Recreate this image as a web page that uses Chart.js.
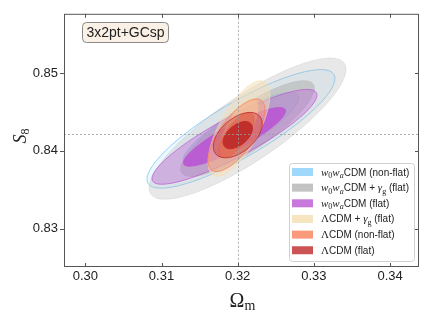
<!DOCTYPE html>
<html>
<head>
<meta charset="utf-8">
<script src="https://cdn.jsdelivr.net/npm/chart.js@4.4.1/dist/chart.umd.min.js"></script>
<style>
  html, body { margin: 0; padding: 0; background: #fff; }
  #wrap { width: 430px; height: 322px; }
</style>
</head>
<body>
<div id="wrap"><canvas id="chart" width="430" height="322"></canvas></div>
<script>
// --- data ---
const xTicks = [0.30, 0.31, 0.32, 0.33, 0.34];
const yTicks = [0.83, 0.84, 0.85];
const xRange = [0.2972, 0.3438];
const yRange = [0.8251, 0.8576];
const fiducialOm = 0.32;
const fiducialS8 = 0.8422;
const panelTitle = '3x2pt+GCsp';

// one entry per model, in legend order
const modelLabels = [
  [['w', 'it'], ['0', 'sub'], ['w', 'it'], ['a', 'subit'], ['CDM (non-flat)', 'sans']],
  [['w', 'it'], ['0', 'sub'], ['w', 'it'], ['a', 'subit'], ['CDM + ', 'sans'], ['γ', 'it'], ['g', 'sub'], [' (flat)', 'sans']],
  [['w', 'it'], ['0', 'sub'], ['w', 'it'], ['a', 'subit'], ['CDM (flat)', 'sans']],
  [['Λ', 'rm'], ['CDM + ', 'sans'], ['γ', 'it'], ['g', 'sub'], [' (flat)', 'sans']],
  [['Λ', 'rm'], ['CDM (non-flat)', 'sans']],
  [['Λ', 'rm'], ['CDM (flat)', 'sans']]
];
const centerOm = [0.32043, 0.32129, 0.31958, 0.32017, 0.31984, 0.32001];
const centerS8 = [0.84283, 0.84286, 0.84181, 0.84286, 0.84201, 0.84203];
// 2-sigma contour half extents and correlation
const outerHalfOm = [0.01234, 0.01293, 0.01083, 0.00407, 0.00374, 0.00322];
const outerHalfS8 = [0.00761, 0.00907, 0.00609, 0.00615, 0.00466, 0.00292];
const corrOmS8 = [0.85, 0.84, 0.88, 0.70, 0.70, 0.50];
const innerRatio = [0.613, 0.68, 0.62, 0.613, 0.613, 0.60];

// --- styles ---
const baseColors = [
  [135, 206, 250], [180, 180, 180], [186, 85, 211],
  [245, 222, 179], [250, 128, 90], [190, 40, 40]
];
const outerAlpha = [0.15, 0.30, 0.35, 0.50, 0.30, 0.35];
const innerAlpha = [0.45, 0.60, 0.90, 0.70, 0.60, 0.90];
const edgeAlpha = [0.90, 0.25, 0.70, 0.50, 0.80, 0.80];

const rgba = (c, a) => `rgba(${c[0]}, ${c[1]}, ${c[2]}, ${a})`;
const SERIF = '"Liberation Serif", "DejaVu Serif", serif';
const SANS = '"Liberation Sans", Arial, sans-serif';
const richFonts = {
  it: { font: `italic 11px ${SERIF}`, dy: 0 },
  rm: { font: `11px ${SERIF}`, dy: 0 },
  sub: { font: `8px ${SERIF}`, dy: 2.5 },
  subit: { font: `italic 8px ${SERIF}`, dy: 2.5 },
  sans: { font: `10px ${SANS}`, dy: 0 }
};

function drawRich(ctx, parts, x, y) {
  for (const [text, style] of parts) {
    const f = richFonts[style];
    ctx.font = f.font;
    ctx.fillText(text, x, y + f.dy);
    x += ctx.measureText(text).width;
  }
}

function roundRect(ctx, x, y, w, h, r) {
  ctx.beginPath();
  ctx.moveTo(x + r, y);
  ctx.arcTo(x + w, y, x + w, y + h, r);
  ctx.arcTo(x + w, y + h, x, y + h, r);
  ctx.arcTo(x, y + h, x, y, r);
  ctx.arcTo(x, y, x + w, y, r);
  ctx.closePath();
}

// Draws the confidence ellipses through the chart scales
const contourPlugin = {
  id: 'contours',
  beforeDatasetsDraw(chart) {
    const { ctx, chartArea, scales: { x, y } } = chart;
    ctx.save();
    ctx.beginPath();
    ctx.rect(chartArea.left, chartArea.top, chartArea.right - chartArea.left, chartArea.bottom - chartArea.top);
    ctx.clip();
    chart.data.datasets.forEach((ds, i) => {
      const px = x.getPixelForValue(centerOm[i]);
      const py = y.getPixelForValue(centerS8[i]);
      const Hx = x.getPixelForValue(centerOm[i] + outerHalfOm[i]) - px;
      const Hy = py - y.getPixelForValue(centerS8[i] + outerHalfS8[i]);
      const a = Hx * Hx, c = Hy * Hy, b = -corrOmS8[i] * Hx * Hy;
      const m = (a + c) / 2, d = Math.sqrt(((a - c) / 2) ** 2 + b * b);
      const r1 = Math.sqrt(m + d), r2 = Math.sqrt(Math.max(m - d, 0));
      const theta = 0.5 * Math.atan2(2 * b, a - c);
      const col = baseColors[i];
      [[1, outerAlpha[i]], [innerRatio[i], innerAlpha[i]]].forEach(([s, alpha]) => {
        ctx.beginPath();
        ctx.ellipse(px, py, r1 * s, r2 * s, theta, 0, Math.PI * 2);
        ctx.fillStyle = rgba(col, alpha);
        ctx.fill();
        ctx.lineWidth = 1;
        ctx.strokeStyle = rgba(col, edgeAlpha[i]);
        ctx.stroke();
      });
    });
    ctx.restore();
  },
  afterDatasetsDraw(chart) {
    const { ctx, chartArea: ca, scales: { x, y } } = chart;
    ctx.save();
    // fiducial cross-hair
    ctx.strokeStyle = '#9a9a9a';
    ctx.lineWidth = 0.8;
    ctx.setLineDash([2, 2]);
    const fx = Math.round(x.getPixelForValue(fiducialOm)) + 0.5;
    const fy = Math.round(y.getPixelForValue(fiducialS8)) + 0.5;
    ctx.beginPath();
    ctx.moveTo(fx, ca.top); ctx.lineTo(fx, ca.bottom);
    ctx.moveTo(ca.left, fy); ctx.lineTo(ca.right, fy);
    ctx.stroke();
    ctx.setLineDash([]);
    // frame
    ctx.strokeStyle = '#555';
    ctx.lineWidth = 1;
    ctx.strokeRect(ca.left + 0.5, ca.top + 0.5, ca.right - ca.left - 1, ca.bottom - ca.top - 1);
    // tick marks
    ctx.beginPath();
    xTicks.forEach(v => {
      const p = Math.round(x.getPixelForValue(v)) + 0.5;
      ctx.moveTo(p, ca.bottom); ctx.lineTo(p, ca.bottom - 4);
      ctx.moveTo(p, ca.top); ctx.lineTo(p, ca.top + 4);
    });
    yTicks.forEach(v => {
      const p = Math.round(y.getPixelForValue(v)) + 0.5;
      ctx.moveTo(ca.left, p); ctx.lineTo(ca.left - 4, p);
      ctx.moveTo(ca.right, p); ctx.lineTo(ca.right - 4, p);
    });
    ctx.stroke();
    ctx.restore();
  },
  afterDraw(chart) {
    const { ctx, chartArea: ca } = chart;
    ctx.save();
    // panel title box
    roundRect(ctx, 82.5, 22.5, 86, 20, 4);
    ctx.fillStyle = '#FAF0E6';
    ctx.fill();
    ctx.strokeStyle = '#8a8a8a';
    ctx.lineWidth = 1;
    ctx.stroke();
    ctx.fillStyle = '#222';
    ctx.font = `14px ${SANS}`;
    ctx.textAlign = 'center';
    ctx.textBaseline = 'middle';
    ctx.fillText(panelTitle, 125.5, 33);

    // legend
    roundRect(ctx, 289.5, 163.5, 125, 98, 3);
    ctx.fillStyle = 'rgba(255,255,255,0.85)';
    ctx.fill();
    ctx.strokeStyle = '#d0d0d0';
    ctx.stroke();
    ctx.textAlign = 'left';
    ctx.textBaseline = 'alphabetic';
    modelLabels.forEach((parts, i) => {
      const cy = 172 + i * 15.65;
      ctx.fillStyle = rgba(baseColors[i], 0.8);
      ctx.fillRect(292, cy - 4, 21, 8);
      ctx.fillStyle = '#222';
      drawRich(ctx, parts, 321, cy + 3.5);
    });

    // axis titles
    ctx.fillStyle = '#222';
    const cx = (ca.left + ca.right) / 2;
    ctx.font = `20px ${SERIF}`;
    const wO = ctx.measureText('Ω').width;
    ctx.font = `14px ${SERIF}`;
    const wm = ctx.measureText('m').width;
    let xs = cx + 1 - (wO + wm) / 2;
    ctx.font = `20px ${SERIF}`;
    ctx.fillText('Ω', xs, 307);
    ctx.font = `14px ${SERIF}`;
    ctx.fillText('m', xs + wO, 310);

    ctx.translate(26, 136);
    ctx.rotate(-Math.PI / 2);
    ctx.font = `italic 18px ${SERIF}`;
    const wS = ctx.measureText('S').width;
    ctx.font = `12px ${SERIF}`;
    const w8 = ctx.measureText('8').width;
    xs = -(wS + w8) / 2;
    ctx.font = `italic 18px ${SERIF}`;
    ctx.fillText('S', xs, 0);
    ctx.font = `12px ${SERIF}`;
    ctx.fillText('8', xs + wS, 3);
    ctx.restore();
  }
};

const datasets = modelLabels.map((parts, i) => ({
  label: parts.map(p => p[0]).join(''),
  data: [{ x: centerOm[i], y: centerS8[i] }],
  pointRadius: 0,
  showLine: false
}));

new Chart(document.getElementById('chart'), {
  type: 'scatter',
  data: { datasets },
  options: {
    responsive: false,
    animation: false,
    events: [],
    layout: { padding: { top: 11, right: 11, left: 0, bottom: 0 } },
    plugins: { legend: { display: false }, tooltip: { enabled: false } },
    scales: {
      x: {
        type: 'linear',
        min: xRange[0],
        max: xRange[1],
        afterBuildTicks: (s) => { s.ticks = xTicks.map(v => ({ value: v })); },
        afterFit: (s) => { s.height = 55; },
        grid: { display: false, drawTicks: false },
        border: { display: false },
        ticks: {
          padding: 2,
          color: '#222',
          font: { family: SANS, size: 13 },
          maxRotation: 0,
          callback: (v) => Number(v).toFixed(2)
        }
      },
      y: {
        type: 'linear',
        min: yRange[0],
        max: yRange[1],
        afterBuildTicks: (s) => { s.ticks = yTicks.map(v => ({ value: v })); },
        afterFit: (s) => { s.width = 64; },
        grid: { display: false, drawTicks: false },
        border: { display: false },
        ticks: {
          padding: 6,
          color: '#222',
          font: { family: SANS, size: 13 },
          callback: (v) => Number(v).toFixed(2)
        }
      }
    }
  },
  plugins: [contourPlugin]
});
</script>
</body>
</html>
